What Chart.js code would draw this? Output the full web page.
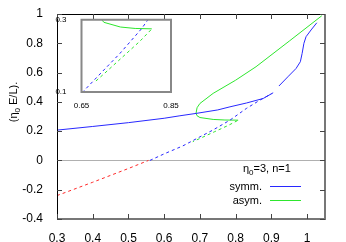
<!DOCTYPE html>
<html>
<head>
<meta charset="utf-8">
<script src="https://cdn.jsdelivr.net/npm/chart.js@4.4.0/dist/chart.umd.min.js"></script>
<style>
html, body { margin: 0; padding: 0; background: #fff; }
#wrap { position: relative; width: 346px; height: 242px; }
#main { position: absolute; left: 0; top: 0; width: 346px; height: 242px; }
#inset { position: absolute; left: 40px; top: 8px; width: 145px; height: 100px; }
</style>
</head>
<body>
<div id="wrap">
  <canvas id="main" width="346" height="242"></canvas>
  <canvas id="inset" width="145" height="100"></canvas>
</div>
<script>
// symmetric branch, stable part (two pieces)
const symmX1 = [0.3, 0.4, 0.5, 0.6, 0.644, 0.689, 0.75, 0.784, 0.83, 0.877, 0.905];
const symmY1 = [0.207, 0.232, 0.258, 0.288, 0.305, 0.321, 0.345, 0.366, 0.392, 0.423, 0.462];
const symmX2 = [0.921, 0.946, 0.969, 0.981, 0.986, 0.991, 0.997, 1.011, 1.027];
const symmY2 = [0.508, 0.571, 0.628, 0.674, 0.731, 0.80, 0.845, 0.891, 0.94];
// symmetric branch, unstable part
const symmDashX = [0.56, 0.6, 0.652, 0.7, 0.736, 0.784, 0.83, 0.868, 0.9];
const symmDashY = [0.0, 0.045, 0.099, 0.161, 0.207, 0.275, 0.355, 0.412, 0.455];
// negative part
const negX = [0.3, 0.4, 0.5, 0.556];
const negY = [-0.24, -0.149, -0.055, 0.0];
// asymmetric branch
const asymX = [1.041, 0.95, 0.857, 0.8, 0.737, 0.70, 0.692, 0.689, 0.692, 0.70, 0.737, 0.77, 0.807];
const asymY = [0.988, 0.815, 0.64, 0.548, 0.458, 0.389, 0.36, 0.321, 0.305, 0.293, 0.28, 0.276, 0.275];
const asymDashX = [0.805, 0.78, 0.74, 0.70, 0.68];
const asymDashY = [0.272, 0.24, 0.195, 0.15, 0.128];

const xTicks = [0.3, 0.4, 0.5, 0.6, 0.7, 0.8, 0.9, 1.0];
const yTicks = [-0.4, -0.2, 0, 0.2, 0.4, 0.6, 0.8, 1.0];
const insetXTicks = [0.65, 0.85];
const insetYTicks = [0.1, 0.3];

const BLUE = '#2828ff';
const GREEN = '#2ee62e';
const RED = '#ff2828';

Chart.defaults.font.family = '"Liberation Sans", Arial, sans-serif';
Chart.defaults.color = '#000';

function pts(xs, ys) {
    return xs.map((x, i) => ({ x: x, y: ys[i] }));
}

function line(xs, ys, color, dashed) {
    return {
        data: pts(xs, ys),
        showLine: true,
        borderColor: color,
        borderWidth: 1,
        borderDash: dashed ? [3, 3] : [],
        pointRadius: 0,
        tension: 0
    };
}

function fmt(v) {
    return String(Number(v.toFixed(2)));
}

// draw "base" + subscript "0" + rest, left aligned at x
function drawSub(ctx, parts, x, y, size) {
    ctx.font = size + 'px "Liberation Sans", Arial, sans-serif';
    ctx.fillText(parts[0], x, y);
    x += ctx.measureText(parts[0]).width;
    ctx.font = Math.round(size * 0.72) + 'px "Liberation Sans", Arial, sans-serif';
    ctx.fillText('0', x, y + size * 0.28);
    x += ctx.measureText('0').width;
    ctx.font = size + 'px "Liberation Sans", Arial, sans-serif';
    ctx.fillText(parts[1], x, y);
}

function subWidth(ctx, parts, size) {
    ctx.font = size + 'px "Liberation Sans", Arial, sans-serif';
    let w = ctx.measureText(parts[0]).width + ctx.measureText(parts[1]).width;
    ctx.font = Math.round(size * 0.72) + 'px "Liberation Sans", Arial, sans-serif';
    return w + ctx.measureText('0').width;
}

const mainDecor = {
    id: 'mainDecor',
    beforeDatasetsDraw(chart) {
        const ctx = chart.ctx, a = chart.chartArea;
        const y0 = Math.round(chart.scales.y.getPixelForValue(0)) + 0.5;
        ctx.save();
        ctx.strokeStyle = '#b0b0b0';
        ctx.lineWidth = 1;
        ctx.beginPath();
        ctx.moveTo(a.left, y0);
        ctx.lineTo(a.right, y0);
        ctx.stroke();
        ctx.restore();
    },
    afterDraw(chart) {
        const ctx = chart.ctx, a = chart.chartArea;
        const sx = chart.scales.x, sy = chart.scales.y;
        ctx.save();
        // frame
        ctx.strokeStyle = '#000';
        ctx.lineWidth = 1;
        ctx.beginPath();
        ctx.moveTo(a.left + 0.5, a.bottom);
        ctx.lineTo(a.left + 0.5, a.top + 0.5);
        ctx.lineTo(a.right, a.top + 0.5);
        ctx.stroke();
        ctx.strokeStyle = '#777';
        ctx.lineWidth = 2;
        ctx.beginPath();
        ctx.moveTo(a.right, a.top);
        ctx.lineTo(a.right, a.bottom);
        ctx.lineTo(a.left, a.bottom);
        ctx.stroke();
        // inward ticks on all sides
        ctx.strokeStyle = '#444';
        ctx.lineWidth = 1;
        ctx.beginPath();
        xTicks.forEach(v => {
            const px = Math.round(sx.getPixelForValue(v)) + 0.5;
            ctx.moveTo(px, a.bottom); ctx.lineTo(px, a.bottom - 5);
            ctx.moveTo(px, a.top); ctx.lineTo(px, a.top + 5);
        });
        yTicks.forEach(v => {
            const py = Math.round(sy.getPixelForValue(v)) + 0.5;
            ctx.moveTo(a.left, py); ctx.lineTo(a.left + 5, py);
            ctx.moveTo(a.right, py); ctx.lineTo(a.right - 5, py);
        });
        ctx.stroke();

        ctx.fillStyle = '#000';
        ctx.textBaseline = 'alphabetic';
        // y axis title, rotated
        ctx.save();
        ctx.translate(17, 102);
        ctx.rotate(-Math.PI / 2);
        const yt = ['(\u03b7', ' E/L).'];
        drawSub(ctx, yt, -subWidth(ctx, yt, 11) / 2, 0, 11);
        ctx.restore();

        // key
        drawSub(ctx, ['\u03b7', '=3, n=1'], 243, 172, 11);
        ctx.font = '11px "Liberation Sans", Arial, sans-serif';
        ctx.textAlign = 'right';
        ctx.fillText('symm.', 262, 190);
        ctx.fillText('asym.', 262, 204);
        ctx.lineWidth = 1;
        ctx.strokeStyle = BLUE;
        ctx.beginPath(); ctx.moveTo(270, 186.5); ctx.lineTo(301, 186.5); ctx.stroke();
        ctx.strokeStyle = GREEN;
        ctx.beginPath(); ctx.moveTo(270, 200.5); ctx.lineTo(301, 200.5); ctx.stroke();
        ctx.restore();
    }
};

new Chart(document.getElementById('main').getContext('2d'), {
    type: 'scatter',
    data: {
        datasets: [
            line(negX, negY, RED, true),
            line(symmDashX, symmDashY, BLUE, true),
            line(asymDashX, asymDashY, GREEN, true),
            line(symmX1, symmY1, BLUE, false),
            line(symmX2, symmY2, BLUE, false),
            line(asymX, asymY, GREEN, false)
        ]
    },
    options: {
        responsive: false,
        animation: false,
        layout: { padding: { top: 14, right: 21, left: 0, bottom: 0 } },
        plugins: { legend: { display: false }, tooltip: { enabled: false } },
        scales: {
            x: {
                type: 'linear',
                min: 0.3,
                max: 1.05,
                grid: { display: false },
                border: { display: false },
                afterBuildTicks: s => { s.ticks = xTicks.map(v => ({ value: v })); },
                afterFit: s => { s.height = 23; },
                ticks: { padding: 4, font: { size: 12 }, maxRotation: 0, callback: fmt }
            },
            y: {
                type: 'linear',
                min: -0.4,
                max: 1.0,
                grid: { display: false },
                border: { display: false },
                afterBuildTicks: s => { s.ticks = yTicks.map(v => ({ value: v })); },
                afterFit: s => { s.width = 57; },
                ticks: { padding: 6, font: { size: 12 }, callback: fmt }
            }
        }
    },
    plugins: [mainDecor]
});

// inset: white box with gray frame over the zoomed region
const insetDecor = {
    id: 'insetDecor',
    beforeDatasetsDraw(chart) {
        const ctx = chart.ctx;
        const sx = chart.scales.x, sy = chart.scales.y;
        const l = sx.getPixelForValue(sx.min), r = sx.getPixelForValue(sx.max);
        const t = sy.getPixelForValue(sy.max), b = sy.getPixelForValue(sy.min);
        ctx.save();
        ctx.fillStyle = '#fff';
        ctx.fillRect(l, t, r - l, b - t);
        ctx.restore();
    },
    afterDatasetsDraw(chart) {
        const ctx = chart.ctx;
        const sx = chart.scales.x, sy = chart.scales.y;
        const l = sx.getPixelForValue(sx.min), r = sx.getPixelForValue(sx.max);
        const t = sy.getPixelForValue(sy.max), b = sy.getPixelForValue(sy.min);
        ctx.save();
        ctx.strokeStyle = '#888';
        ctx.lineWidth = 2;
        ctx.beginPath();
        ctx.rect(l, t, r - l, b - t);
        ctx.stroke();
        ctx.restore();
    }
};

new Chart(document.getElementById('inset').getContext('2d'), {
    type: 'scatter',
    data: {
        datasets: [
            line(symmDashX, symmDashY, BLUE, true),
            line(asymDashX, asymDashY, GREEN, true),
            line(asymX, asymY, GREEN, false)
        ]
    },
    options: {
        responsive: false,
        animation: false,
        layout: { padding: { top: 10, right: 14, left: 0, bottom: 0 } },
        plugins: { legend: { display: false }, tooltip: { enabled: false } },
        scales: {
            x: {
                type: 'linear',
                min: 0.65,
                max: 0.85,
                grid: { display: false },
                border: { display: false },
                afterBuildTicks: s => { s.ticks = insetXTicks.map(v => ({ value: v })); },
                afterFit: s => { s.height = 16; },
                ticks: { padding: 1, font: { size: 8 }, maxRotation: 0, callback: fmt }
            },
            y: {
                type: 'linear',
                min: 0.1,
                max: 0.3,
                grid: { display: false },
                border: { display: false },
                afterBuildTicks: s => { s.ticks = insetYTicks.map(v => ({ value: v })); },
                afterFit: s => { s.width = 41.5; },
                ticks: { padding: 7, font: { size: 8 }, callback: fmt }
            }
        }
    },
    plugins: [insetDecor]
});
</script>
</body>
</html>
